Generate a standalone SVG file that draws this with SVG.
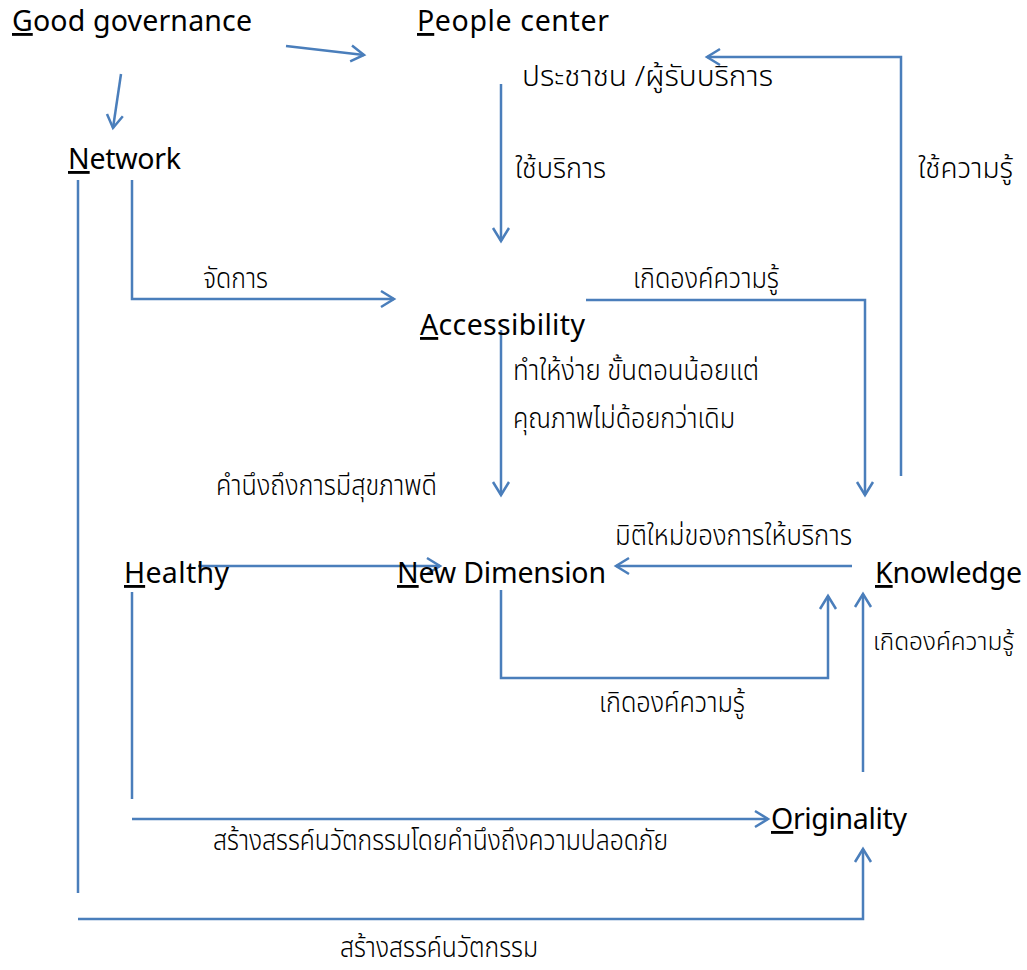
<svg xmlns="http://www.w3.org/2000/svg" width="1027" height="970" viewBox="0 0 1027 970">
<style>
.en{font-family:"Noto Sans","Open Sans","DejaVu Sans",sans-serif;font-size:28.5px;fill:#000}
.th{font-family:"Noto Sans Thai","Noto Sans","DejaVu Sans",sans-serif;font-size:28px;fill:#000;font-weight:300}
.u{text-decoration:underline}
.c{fill:none;stroke:#4a7ebb;stroke-width:2.5}
</style>
<defs>
<marker id="ah" markerUnits="userSpaceOnUse" markerWidth="20" markerHeight="20" viewBox="-16 -10 20 20" refX="0" refY="0" orient="auto" overflow="visible">
<path d="M-13,-8 L0,0 L-13,8" fill="none" stroke="#4a7ebb" stroke-width="2.5"/>
</marker>
</defs>
<rect width="1027" height="970" fill="#fff"/>
<g id="connectors">
<path class="c" d="M286,46 L364,55" marker-end="url(#ah)"/>
<path class="c" d="M121,74 L113,128" marker-end="url(#ah)"/>
<path class="c" d="M501,84 L501,241" marker-end="url(#ah)"/>
<path class="c" d="M901,476 L901,57 L707,57" marker-end="url(#ah)"/>
<path class="c" d="M132,180 L132,299 L394,299" marker-end="url(#ah)"/>
<path class="c" d="M586,300 L865,300 L865,495" marker-end="url(#ah)"/>
<path class="c" d="M501,330 L501,495" marker-end="url(#ah)"/>
<path class="c" d="M198,566 L440,566" marker-end="url(#ah)"/>
<path class="c" d="M852,566 L616,566" marker-end="url(#ah)"/>
<path class="c" d="M501,590 L501,678 L828,678 L828,596" marker-end="url(#ah)"/>
<path class="c" d="M863,772 L863,594" marker-end="url(#ah)"/>
<path class="c" d="M132,592 L132,799"/>
<path class="c" d="M132,819 L768,819" marker-end="url(#ah)"/>
<path class="c" d="M78,180 L78,893"/>
<path class="c" d="M78,919 L863,919 L863,849" marker-end="url(#ah)"/>
</g>
<g id="good-governance"><text class="en" x="12" y="31" textLength="240"><tspan class="u">G</tspan>ood governance</text></g>
<g id="people-center"><text class="en" x="417" y="31" textLength="192"><tspan class="u">P</tspan>eople center</text>
<text class="th" x="522" y="86" textLength="251" lengthAdjust="spacingAndGlyphs">ประชาชน /ผู้รับบริการ</text></g>
<g id="network"><text class="en" x="68" y="169" textLength="113"><tspan class="u">N</tspan>etwork</text></g>
<g id="accessibility"><text class="en" x="420" y="335" textLength="165"><tspan class="u">A</tspan>ccessibility</text></g>
<g id="healthy"><text class="en" x="124" y="583" textLength="105"><tspan class="u">H</tspan>ealthy</text></g>
<g id="new-dimension"><text class="en" x="397" y="583" textLength="209"><tspan class="u">N</tspan>ew Dimension</text></g>
<g id="knowledge"><text class="en" x="875" y="583" textLength="147"><tspan class="u">K</tspan>nowledge</text></g>
<g id="originality"><text class="en" x="771" y="829" textLength="136"><tspan class="u">O</tspan>riginality</text></g>
<g id="labels">
<text class="th" x="515" y="178" textLength="91" lengthAdjust="spacingAndGlyphs">ใช้บริการ</text>
<text class="th" x="918" y="178" textLength="95" lengthAdjust="spacingAndGlyphs">ใช้ความรู้</text>
<text class="th" x="203" y="288" textLength="65" lengthAdjust="spacingAndGlyphs">จัดการ</text>
<text class="th" x="633" y="288" textLength="146" lengthAdjust="spacingAndGlyphs">เกิดองค์ความรู้</text>
<text class="th" x="513" y="380" textLength="246" lengthAdjust="spacingAndGlyphs">ทำให้ง่าย ขั้นตอนน้อยแต่</text>
<text class="th" x="513" y="428" textLength="222" lengthAdjust="spacingAndGlyphs">คุณภาพไม่ด้อยกว่าเดิม</text>
<text class="th" x="216" y="495" textLength="221" lengthAdjust="spacingAndGlyphs">คำนึงถึงการมีสุขภาพดี</text>
<text class="th" x="615" y="545" textLength="237" lengthAdjust="spacingAndGlyphs">มิติใหม่ของการให้บริการ</text>
<text class="th" x="599" y="712" textLength="146" lengthAdjust="spacingAndGlyphs">เกิดองค์ความรู้</text>
<text class="th" x="873" y="650" textLength="141" lengthAdjust="spacingAndGlyphs" style="font-size:25px">เกิดองค์ความรู้</text>
<text class="th" x="213" y="850" textLength="455" lengthAdjust="spacingAndGlyphs">สร้างสรรค์นวัตกรรมโดยคำนึงถึงความปลอดภัย</text>
<text class="th" x="340" y="957" textLength="198" lengthAdjust="spacingAndGlyphs">สร้างสรรค์นวัตกรรม</text>
</g>
</svg>
